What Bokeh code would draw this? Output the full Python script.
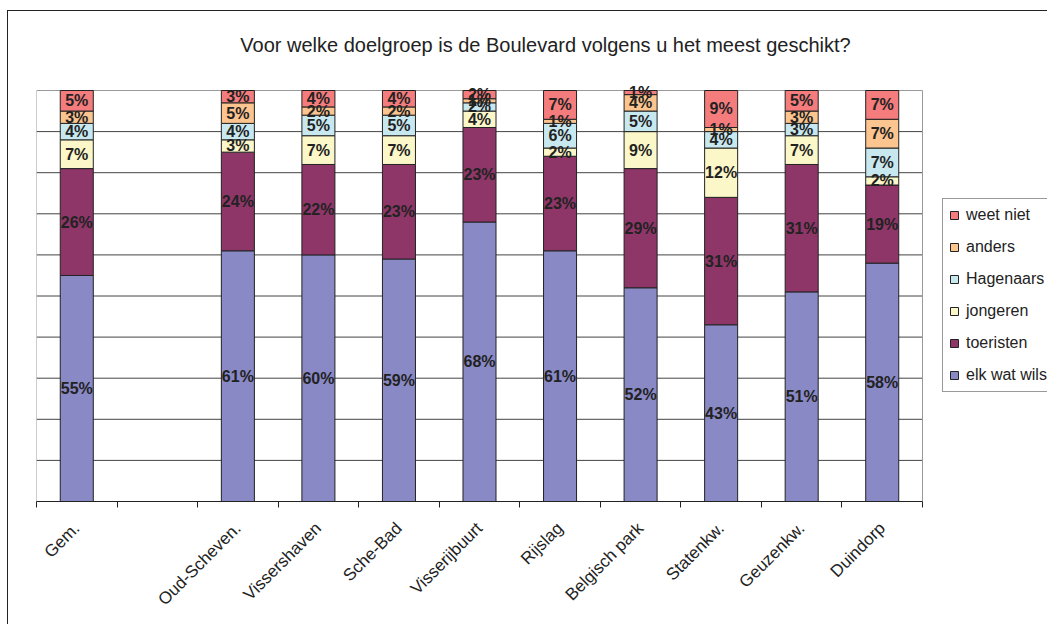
import math
from bokeh.plotting import figure
from bokeh.models import (ColumnDataSource, Range1d, FixedTicker, Legend, LegendItem, Label)
from bokeh.core.properties import value
from bokeh.embed import file_html
from bokeh.resources import INLINE

# ---- data ----
categories = ["Gem.", "", "Oud-Scheven.", "Vissershaven", "Sche-Bad", "Visserijbuurt",
              "Rijslag", "Belgisch park", "Statenkw.", "Geuzenkw.", "Duindorp"]
series = ["elk wat wils", "toeristen", "jongeren", "Hagenaars", "anders", "weet niet"]
elk_wat_wils = [55, 0, 61, 60, 59, 68, 61, 52, 43, 51, 58]
toeristen    = [26, 0, 24, 22, 23, 23, 23, 29, 31, 31, 19]
jongeren     = [7, 0, 3, 7, 7, 4, 2, 9, 12, 7, 2]
hagenaars    = [4, 0, 4, 5, 5, 2, 6, 5, 4, 3, 7]
anders       = [3, 0, 5, 2, 2, 1, 1, 4, 1, 3, 7]
weet_niet    = [5, 0, 3, 4, 4, 2, 7, 1, 9, 5, 7]
has_bar      = [True, False, True, True, True, True, True, True, True, True, True]
grid_levels  = [10, 20, 30, 40, 50, 60, 70, 80, 90]
colors = ["#8989C6", "#8F3669", "#FBF7C8", "#C8E8F0", "#FCC48E", "#F47C7C"]
title_text = "Voor welke doelgroep is de Boulevard volgens u het meest geschikt?"

values = [elk_wat_wils, toeristen, jongeren, hagenaars, anders, weet_niet]
FONT = "Liberation Sans"

# ---- layout constants (pixels) ----
W, H = 1047, 624
PL, PR, PT, PB = 36, 922, 90, 501   # plot area edges
n = len(categories)
px_per_x = (PR - PL) / n
x_end = 0.5 + (W - PL) / px_per_x
y_end = 100.0 * PB / (PB - PT)

xs = [i + 1 for i in range(n)]
idx = [i for i in range(n) if has_bar[i]]
data = {"x": [xs[i] for i in idx]}
keys = ["s%d" % k for k in range(len(series))]
for k, vals in zip(keys, values):
    data[k] = [vals[i] for i in idx]
src = ColumnDataSource(data)

p = figure(width=W, height=H, output_backend="svg", toolbar_location=None,
           x_range=Range1d(0.5, x_end), y_range=Range1d(0, y_end),
           y_axis_location=None, min_border_left=PL, min_border_right=0,
           min_border_top=0, min_border_bottom=H - PB)
p.outline_line_color = None
p.background_fill_alpha = 0
p.border_fill_alpha = 0
p.xgrid.visible = False
p.ygrid.visible = False
p.styles = {
    "background-color": "white",
    "background-image": "linear-gradient(#222,#222), linear-gradient(#222,#222)",
    "background-size": "1px 100%, 100% 1px",
    "background-position": "7px 10px, 7px 10px",
    "background-repeat": "no-repeat",
}

# gridlines and plot-area border
x0, x1 = 0.5, n + 0.5
p.segment(x0=[x0] * len(grid_levels), x1=[x1] * len(grid_levels), y0=grid_levels, y1=grid_levels,
          line_color="#444444", line_width=1)
p.segment(x0=[x0, x1, x0], x1=[x1, x1, x0], y0=[100, 0, 0], y1=[100, 100, 100],
          line_color="#999999", line_width=1)

renderers = p.vbar_stack(keys, x="x", width=0.41, source=src, color=colors,
                         line_color="#222222", line_width=1)

# segment labels
lx, ly, lt = [], [], []
for i in idx:
    base = 0
    for vals in values:
        v = vals[i]
        lx.append(xs[i]); ly.append(base + v / 2); lt.append("%d%%" % v)
        base += v
p.text(x=lx, y=ly, text=lt, text_align="center", text_baseline="middle",
       text_font=value(FONT), text_font_size="16px", text_font_style="bold",
       text_color="#222222")

# x axis
ax = p.xaxis[0]
ax.bounds = (x0, x1)
ax.ticker = FixedTicker(ticks=xs, minor_ticks=[x + 0.5 for x in [0] + xs])
ax.major_label_overrides = {x: c for x, c in zip(xs, categories)}
ax.major_tick_line_color = None
ax.minor_tick_line_color = "#222222"
ax.minor_tick_in = 0
ax.minor_tick_out = 6
ax.axis_line_color = "#222222"
ax.major_label_orientation = math.pi / 4
ax.major_label_text_font = FONT
ax.major_label_text_font_size = "17px"
ax.major_label_text_color = "#222222"
ax.major_label_standoff = 18

# title (inside the frame, screen units relative to frame bottom-left)
p.add_layout(Label(x=545 - PL, y=PB - 44, x_units="screen", y_units="screen", text=title_text,
                   text_align="center", text_baseline="middle", text_font=FONT,
                   text_font_size="20px", text_color="#222222"))

# legend
items = [LegendItem(label=series[k], renderers=[renderers[k]]) for k in reversed(range(len(series)))]
legend = Legend(items=items, location=(942 - PL, PB - 392), orientation="vertical",
                glyph_width=10, glyph_height=10, label_height=20, spacing=12,
                padding=6, margin=0, label_standoff=7,
                label_text_font=FONT, label_text_font_size="16px", label_text_color="#222222",
                border_line_color="#333333", border_line_width=1,
                background_fill_color="white", background_fill_alpha=1)
p.add_layout(legend, "center")

open("out.html", "w").write(file_html(p, INLINE))
